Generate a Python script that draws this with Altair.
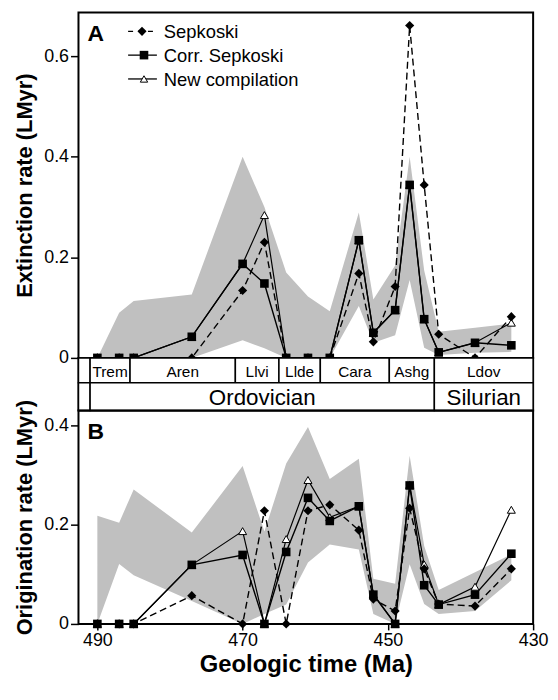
import altair as alt
import pandas as pd

# ---------------- data ----------------
time_bins = [490, 487, 485, 477, 470, 467, 464, 461, 458, 454, 452, 449, 447, 445, 443, 438, 433]

# Panel A: extinction rate
ext_sepkoski = [0, 0, 0, 0, 0.134, 0.230, 0, 0, 0, 0.168, 0.032, 0.142, 0.661, 0.344, 0.047, 0, 0.082]
ext_corr = [0, 0, 0, 0.042, 0.187, 0.148, 0, 0, 0, 0.234, 0.050, 0.095, 0.344, 0.077, 0.011, 0.030, 0.025]
ext_new = [0, 0, 0, 0.042, 0.187, 0.284, 0, 0, 0, 0.234, 0.050, 0.095, 0.344, 0.077, 0.011, 0.030, 0.070]
ext_lo = [0, 0, 0, 0, 0.035, 0.019, 0, 0, 0, 0.103, 0.030, 0.045, 0.155, 0.020, 0.006, 0.010, 0.012]
ext_hi = [0, 0.090, 0.113, 0.126, 0.400, 0.300, 0.170, 0.122, 0.093, 0.289, 0.116, 0.184, 0.400, 0.174, 0.052, 0.060, 0.068]

# Panel B: origination rate
ori_sepkoski = [0, 0, 0, 0.057, 0, 0.228, 0, 0.228, 0.240, 0.189, 0.050, 0.026, 0.233, 0.111, 0.040, 0.036, 0.111]
ori_corr = [0, 0, 0, 0.119, 0.139, 0, 0.145, 0.254, 0.2075, 0.237, 0.059, 0, 0.279, 0.078, 0.039, 0.059, 0.1415]
ori_new = [0, 0, 0, 0.119, 0.187, 0, 0.171, 0.290, 0.215, 0.237, 0.060, 0, 0.280, 0.120, 0.039, 0.075, 0.230]
ori_lo = [0, 0.121, 0.098, 0.046, 0, 0.020, 0.039, 0.124, 0.160, 0.150, 0.020, 0, 0.120, 0.040, 0.020, 0.026, 0.088]
ori_hi = [0.218, 0.204, 0.271, 0.184, 0.318, 0.186, 0.323, 0.397, 0.292, 0.333, 0.091, 0.081, 0.339, 0.157, 0.0685, 0.104, 0.140]

legend_labels = ["Sepkoski", "Corr. Sepkoski", "New compilation"]

stage_names = ["", "Trem", "Aren", "Llvi", "Llde", "Cara", "Ashg", "Ldov"]
stage_start = [492.6, 491.0, 485.5, 471.0, 465.0, 459.3, 449.8, 443.6]
stage_end = [491.0, 485.5, 471.0, 465.0, 459.3, 449.8, 443.6, 430.0]
period_names = ["", "Ordovician", "Silurian"]
period_start = [492.6, 491.0, 443.6]
period_end = [491.0, 443.6, 430.0]

x_domain = [430, 492.6]
x_ticks = [490, 470, 450, 430]

# ---------------- styles ----------------
FONT = "Liberation Sans"
W = 458
H_A = 348
H_TS = 53
H_B = 215
BAND = "#c0c0c0"
LW = 1.4
DASH = [7, 4]

xscale = alt.Scale(domain=x_domain, reverse=True, nice=False, zero=False)


def panel(sep, corr, new, lo, hi, ydomain, yticks, ytitle, height, letter, x_axis, legend):
    df = pd.DataFrame({"t": time_bins, "sep": sep, "corr": corr, "new": new, "lo": lo, "hi": hi})
    yscale = alt.Scale(domain=ydomain, nice=False, zero=False)
    yaxis = alt.Axis(values=yticks, format=".1~f", title=ytitle, tickSize=8, labelPadding=2,
                     titlePadding=7, labelFontSize=18, titleFontSize=22, titleFontWeight="bold")
    X = alt.X("t:Q", scale=xscale, axis=x_axis, title="Geologic time (Ma)")
    base = alt.Chart(df)
    band = base.mark_area(color=BAND, opacity=1).encode(
        x=X, y=alt.Y("lo:Q", scale=yscale, axis=yaxis), y2="hi:Q")
    l_sep = base.mark_line(color="black", strokeWidth=LW, strokeDash=DASH).encode(
        x=X, y=alt.Y("sep:Q", scale=yscale, axis=yaxis))
    l_corr = base.mark_line(color="black", strokeWidth=LW).encode(
        x=X, y=alt.Y("corr:Q", scale=yscale, axis=yaxis))
    l_new = base.mark_line(color="black", strokeWidth=LW - 0.2).encode(
        x=X, y=alt.Y("new:Q", scale=yscale, axis=yaxis))
    p_new = base.mark_point(shape="triangle-up", fill="white", fillOpacity=1, stroke="black",
                            strokeWidth=1, size=65, opacity=1).encode(
        x=X, y=alt.Y("new:Q", scale=yscale, axis=yaxis))
    p_sep = base.mark_point(shape="diamond", filled=True, color="black", size=85, opacity=1).encode(
        x=X, y=alt.Y("sep:Q", scale=yscale, axis=yaxis))
    p_corr = base.mark_square(color="black", size=75, opacity=1).encode(
        x=X, y=alt.Y("corr:Q", scale=yscale, axis=yaxis))
    layers = [band, l_sep, l_corr, l_new, p_new, p_sep, p_corr]

    lab = alt.Chart(pd.DataFrame({"txt": [letter]})).mark_text(
        font=FONT, fontSize=23, fontWeight="bold", align="left", baseline="alphabetic", color="black"
    ).encode(x=alt.value(9), y=alt.value(29), text="txt:N")
    layers.append(lab)

    if legend:
        ys = [19, 43, 67]
        for i, name in enumerate(legend_labels):
            ld = alt.Chart(pd.DataFrame({"name": [name]}))
            rule_kw = dict(color="black", strokeWidth=1.3)
            if i == 0:
                rule_kw["strokeDash"] = [5, 5]
            layers.append(ld.mark_rule(**rule_kw).encode(
                x=alt.value(50), x2=alt.value(79), y=alt.value(ys[i])))
            if i == 0:
                layers.append(ld.mark_point(shape="diamond", filled=True, color="black", size=85, opacity=1)
                              .encode(x=alt.value(64), y=alt.value(ys[i])))
            elif i == 1:
                layers.append(ld.mark_square(color="black", size=75, opacity=1)
                              .encode(x=alt.value(66), y=alt.value(ys[i])))
            else:
                layers.append(ld.mark_point(shape="triangle-up", fill="white", fillOpacity=1, stroke="black",
                                            strokeWidth=1, size=55, opacity=1)
                              .encode(x=alt.value(66), y=alt.value(ys[i])))
            layers.append(ld.mark_text(font=FONT, fontSize=18.5, align="left", baseline="middle", color="black"
                                       ).encode(x=alt.value(86), y=alt.value(ys[i] + 1), text="name:N"))

    return alt.layer(*layers).properties(width=W, height=height)


panel_a = panel(ext_sepkoski, ext_corr, ext_new, ext_lo, ext_hi, [0, 0.687], [0, 0.2, 0.4, 0.6],
                "Extinction rate (LMyr)", H_A, "A", None, True)

x_axis_b = alt.Axis(values=x_ticks, format="d", tickSize=6, labelPadding=2, labelFontSize=18,
                    titleFontSize=24, titleFontWeight="bold", titlePadding=3, labelFlush=False)
panel_b = panel(ori_sepkoski, ori_corr, ori_new, ori_lo, ori_hi, [0, 0.43], [0, 0.2, 0.4],
                "Origination rate (LMyr)", H_B, "B", x_axis_b, False)

# ---------------- time scale bar ----------------
stage_df = pd.DataFrame({"name": stage_names, "start": stage_start, "end": stage_end})
stage_df["mid"] = (stage_df["start"] + stage_df["end"]) / 2
period_df = pd.DataFrame({"name": period_names, "start": period_start, "end": period_end})
period_df["mid"] = (period_df["start"] + period_df["end"]) / 2

TX = lambda f: alt.X(f, scale=xscale, axis=None)
st_rect = alt.Chart(stage_df).mark_rect(fill="white", stroke="black", strokeWidth=1.5).encode(
    x=TX("start:Q"), x2="end:Q", y=alt.value(0), y2=alt.value(25))
st_text = alt.Chart(stage_df).mark_text(font=FONT, fontSize=15.5, baseline="middle", color="black").encode(
    x=TX("mid:Q"), y=alt.value(14), text="name:N")
pe_rect = alt.Chart(period_df).mark_rect(fill="white", stroke="black", strokeWidth=1.5).encode(
    x=TX("start:Q"), x2="end:Q", y=alt.value(25), y2=alt.value(H_TS))
pe_text = alt.Chart(period_df).mark_text(font=FONT, fontSize=22.5, baseline="middle", color="black").encode(
    x=TX("mid:Q"), y=alt.value(40), text="name:N")
timescale = alt.layer(st_rect, pe_rect, st_text, pe_text).properties(width=W, height=H_TS)

chart = alt.vconcat(panel_a, timescale, panel_b, spacing=0, bounds="flush").resolve_scale(
    x="independent", y="independent"
).properties(
    padding={"left": 4, "top": 1, "right": 0, "bottom": 0}
).configure_view(
    stroke="black", strokeWidth=2
).configure_axis(
    labelFont=FONT, titleFont=FONT, labelColor="black", titleColor="black",
    tickColor="black", tickWidth=1.5, grid=False, domain=False
)

chart.save("out.html", embed_options={"renderer": "svg", "actions": False})
